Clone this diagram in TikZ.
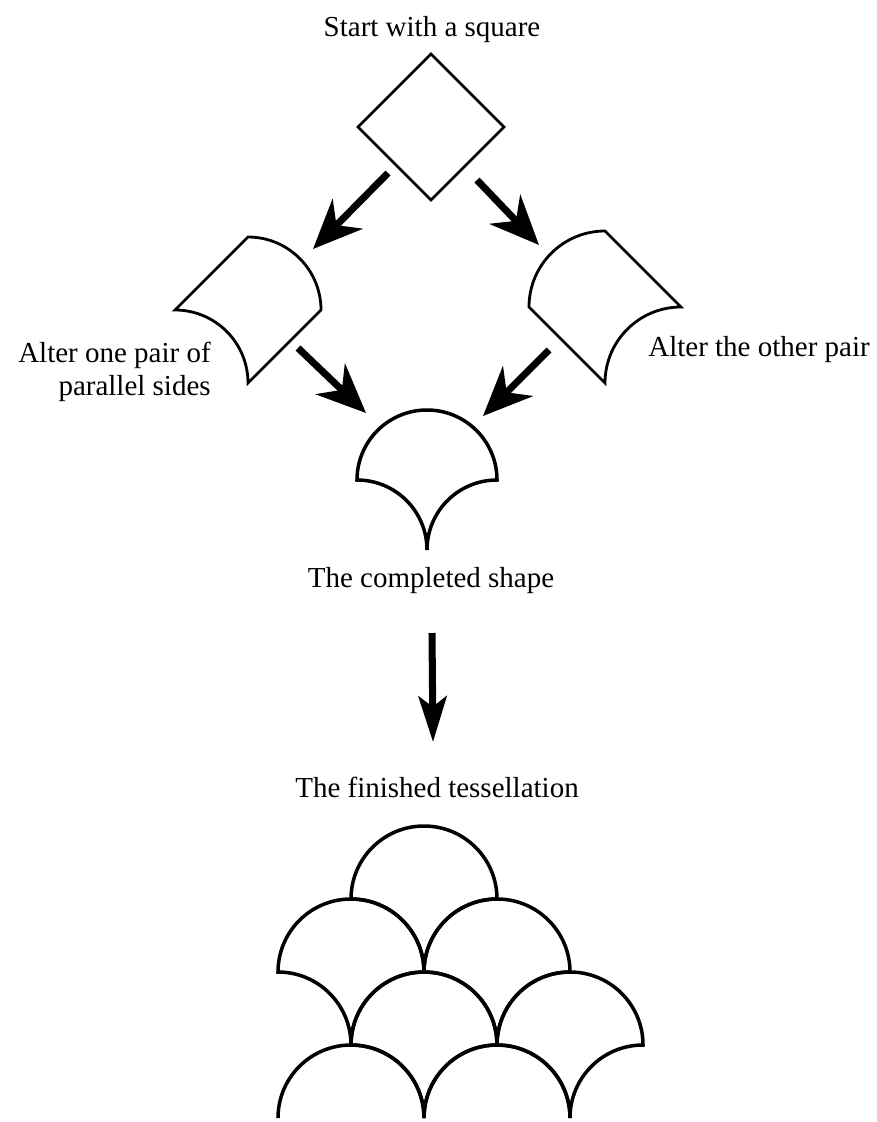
\documentclass[tikz,border=0pt]{standalone}
\usepackage{fontspec}
\setmainfont{Liberation Serif}
\usetikzlibrary{arrows.meta}

\begin{document}
\begin{tikzpicture}[x=0.02cm, y=0.02cm, font=\fontsize{16.5}{18.7}\selectfont,
  bigarrow/.style={line width=4pt, -{Stealth[length=28pt, width=24pt, inset=9pt]}},
  downarrow/.style={line width=4pt, -{Stealth[length=26pt, width=16pt, inset=6pt]}},
  outline/.style={line width=1.6pt},
  tile/.pic={\draw[line width=2pt] (-#1,0) arc[start angle=180, end angle=0, radius=#1]
    arc[start angle=90, end angle=180, radius=#1] arc[start angle=0, end angle=90, radius=#1] -- cycle;}]
  \useasboundingbox (0,0) rectangle (876,-1122);

  % labels
  \node[anchor=base] (start) at (432,-37) {Start with a square};
  \node[anchor=east, align=right, inner sep=0pt] (altone) at (211,-372) {Alter one pair of\\parallel sides};
  \node[anchor=base west, inner sep=0pt] (altother) at (648,-356) {Alter the other pair};
  \node[anchor=base] (done) at (431,-587) {The completed shape};
  \node[anchor=base] (tess) at (437,-797) {The finished tessellation};

  % the square
  \draw[outline] (431,-54) -- (504,-127) -- (431,-200) -- (358,-127) -- cycle;
  % one pair altered
  \draw[outline] (248,-237) arc[start angle=90, end angle=0, radius=73] -- (248,-383)
    arc[start angle=0, end angle=90, radius=73] -- cycle;
  % other pair altered
  \draw[outline] (529,-307) arc[start angle=180, end angle=90, radius=76] -- (681,-307)
    arc[start angle=90, end angle=180, radius=76] -- cycle;
  % completed shape
  \pic at (427,-480) {tile=70};

  % arrows
  \coordinate (a1) at (388,-173); \coordinate (b1) at (313,-249);
  \coordinate (a2) at (477,-180); \coordinate (b2) at (539,-245);
  \coordinate (a3) at (298,-348); \coordinate (b3) at (366,-413);
  \coordinate (a4) at (549,-350); \coordinate (b4) at (483,-416);
  \coordinate (a5) at (432,-633); \coordinate (b5) at (433,-742);
  \draw[bigarrow] (a1) -- (b1);
  \draw[bigarrow] (a2) -- (b2);
  \draw[bigarrow] (a3) -- (b3);
  \draw[bigarrow] (a4) -- (b4);
  \draw[downarrow] (a5) -- (b5);

  % tessellation
  \pic at (424,-899) {tile=73};
  \pic at (351,-972) {tile=73};
  \pic at (497,-972) {tile=73};
  \pic at (424,-1045) {tile=73};
  \pic at (570,-1045) {tile=73};
  \draw[line width=2pt] (278,-1118) arc[start angle=180, end angle=0, radius=73];
  \draw[line width=2pt] (424,-1118) arc[start angle=180, end angle=0, radius=73];
\end{tikzpicture}
\end{document}
